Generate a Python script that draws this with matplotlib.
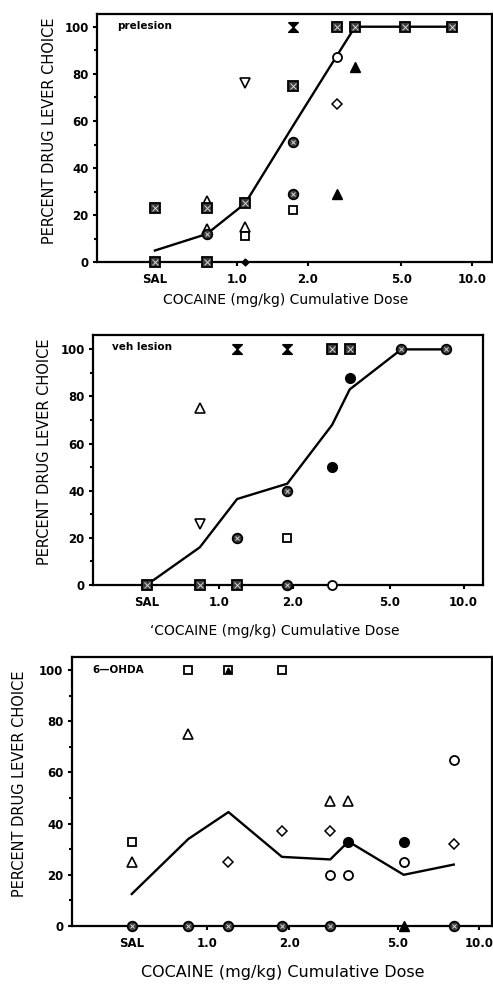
import matplotlib.pyplot as plt
import numpy as np
from matplotlib.ticker import FixedLocator, NullLocator

plt.rcParams['font.family'] = ['DejaVu Sans']

# x positions (first entry is the saline point)
pre_dose = [0.445, 0.74, 1.08, 1.73, 2.67, 3.18, 5.19, 8.22]
veh_dose = [0.505, 0.834, 1.185, 1.90, 2.90, 3.42, 5.56, 8.5]
ohda_dose = [0.527, 0.851, 1.195, 1.88, 2.83, 3.30, 5.27, 8.05]

tick_vals = ['SAL', '1.0', '2.0', '5.0', '10.0']

# group means (line)
pre_mean = [5, 12, 25, 58, 88, 100, 100, 100]
veh_mean = [0, 16, 36.5, 43, 68, 83, 100, 100]
ohda_mean = [12.5, 34, 44.5, 27, 26, 33, 20, 24]

# individual subjects: dose index, percent, marker kind
pre_idx = [0, 0, 1, 1, 1, 1, 1, 2, 2, 2, 2, 2, 3, 3, 3, 3, 3, 4, 4, 4, 4, 5, 5, 6, 7]
pre_pct = [23, 0, 26, 23, 14, 12, 0, 76, 25, 15, 11, 0, 100, 75, 51, 29, 22, 100, 87, 67, 29, 100, 83, 100, 100]
pre_mk = ['blob', 'blob', 'tr', 'blob', 'tr', 'cblob', 'blob', 'iv', 'blob', 'tr', 'sq', 'dsm',
          'hg', 'blob', 'cblob', 'cblob', 'sq', 'blob', 'ci', 'di', 'trf', 'blob', 'trf', 'blob', 'blob']

veh_idx = [0, 1, 1, 1, 2, 2, 2, 3, 3, 3, 3, 4, 4, 4, 5, 5, 6, 7]
veh_pct = [0, 75, 26, 0, 100, 20, 0, 100, 40, 20, 0, 100, 50, 0, 100, 88, 100, 100]
veh_mk = ['blob', 'tr', 'iv', 'blob', 'hg', 'cblob', 'blob', 'hg', 'cblob', 'sq', 'cblob',
          'blob', 'cf', 'ci', 'blob', 'cf', 'cblob', 'cblob']

ohda_idx = [0, 0, 0, 1, 1, 1, 2, 2, 2, 3, 3, 3, 4, 4, 4, 4, 5, 5, 5, 6, 6, 6, 7, 7, 7]
ohda_pct = [33, 25, 0, 100, 75, 0, 100, 25, 0, 100, 37, 0, 49, 37, 20, 0, 49, 33, 20, 33, 25, 0, 65, 32, 0]
ohda_mk = ['sq', 'tr', 'cblob', 'sq', 'tr', 'cblob', 'sqtr', 'di', 'cblob', 'sq', 'di', 'cblob',
           'tr', 'di', 'ci', 'cblob', 'tr', 'cf', 'ci', 'cf', 'ci', 'trf', 'ci', 'di', 'cblob']

hourglass = [(-1, 1), (1, 1), (0, 0), (1, -1), (-1, -1), (0, 0), (-1, 1)]


def put(ax, x, y, kind):
    kw = dict(linestyle='none', clip_on=False, zorder=4)
    if kind == 'sq':
        ax.plot(x, y, 's', ms=6, mfc='white', mec='k', mew=1.3, **kw)
    elif kind == 'sqtr':
        ax.plot(x, y, 's', ms=6, mfc='white', mec='k', mew=1.3, **kw)
        ax.plot(x, y, '^', ms=3.5, mfc='k', mec='k', **kw)
    elif kind == 'ci':
        ax.plot(x, y, 'o', ms=6.5, mfc='white', mec='k', mew=1.3, **kw)
    elif kind == 'cf':
        ax.plot(x, y, 'o', ms=7, mfc='k', mec='k', **kw)
    elif kind == 'tr':
        ax.plot(x, y, '^', ms=6.5, mfc='white', mec='k', mew=1.2, **kw)
    elif kind == 'trf':
        ax.plot(x, y, '^', ms=6.5, mfc='k', mec='k', **kw)
    elif kind == 'iv':
        ax.plot(x, y, 'v', ms=7, mfc='white', mec='k', mew=1.2, **kw)
    elif kind == 'di':
        ax.plot(x, y, 'D', ms=5, mfc='white', mec='k', mew=1.1, **kw)
    elif kind == 'dsm':
        ax.plot(x, y, 'D', ms=3.5, mfc='k', mec='k', **kw)
    elif kind == 'hg':
        ax.plot(x, y, marker=hourglass, ms=7, mfc='k', mec='k', **kw)
    elif kind == 'blob':
        ax.plot(x, y, 's', ms=6.5, mfc='#3a3a3a', mec='k', mew=1.3, **kw)
        ax.plot(x, y, 'x', ms=4, mec='#d8d8d8', mew=0.7, **kw)
    elif kind == 'cblob':
        ax.plot(x, y, 'o', ms=7, mfc='#3a3a3a', mec='k', mew=1.2, **kw)
        ax.plot(x, y, 'x', ms=3.5, mec='#d8d8d8', mew=0.7, **kw)


def panel(fig, rect, dose, mean, idx, pct, mk, tag, xlim, ytop):
    ax = fig.add_axes(rect)
    ax.set_xscale('log')
    ax.set_xlim(*xlim)
    ax.set_ylim(0, ytop)
    ax.plot(dose, mean, color='k', lw=1.7, zorder=3, clip_on=False)
    for i, p, k in zip(idx, pct, mk):
        put(ax, dose[i], p, k)
    ax.xaxis.set_major_locator(FixedLocator([dose[0], 1, 2, 5, 10]))
    ax.set_xticklabels(tick_vals)
    ax.xaxis.set_minor_locator(NullLocator())
    ax.set_yticks([0, 20, 40, 60, 80, 100])
    ax.yaxis.set_minor_locator(FixedLocator([10, 30, 50, 70, 90]))
    ax.tick_params(axis='both', which='major', direction='out', length=3, width=1.5,
                   labelsize=8.5, pad=3)
    ax.tick_params(axis='x', pad=5)
    ax.tick_params(axis='y', which='minor', direction='out', length=2, width=1.5)
    for t in ax.get_xticklabels() + ax.get_yticklabels():
        t.set_fontweight('bold')
    for s in ax.spines.values():
        s.set_linewidth(1.6)
    ax.text(0.05, 0.952, tag, transform=ax.transAxes, fontsize=7.5, fontweight='bold',
            va='center', ha='left')
    return ax


fig = plt.figure(figsize=(4.93, 9.86), dpi=100)

H = 986.0
W = 493.0

panel(fig, [97 / W, 1 - 262.3 / H, 395 / W, 248.3 / H], pre_dose, pre_mean,
      pre_idx, pre_pct, pre_mk, 'prelesion', (0.252, 12.2), 105.4)
panel(fig, [93 / W, 1 - 585 / H, 390 / W, 250 / H], veh_dose, veh_mean,
      veh_idx, veh_pct, veh_mk, 'veh lesion', (0.305, 12.0), 106.1)
panel(fig, [71.7 / W, 1 - 926 / H, 420 / W, 269.3 / H], ohda_dose, ohda_mean,
      ohda_idx, ohda_pct, ohda_mk, '6\u2014OHDA', (0.317, 11.1), 105.2)

ylab = 'PERCENT DRUG LEVER CHOICE'
for xp, yp in [(50, 131), (45, 452), (20, 784)]:
    fig.text(xp / W, 1 - yp / H, ylab, rotation=90, ha='center', va='center',
             fontsize=10.5)

fig.text(286 / W, 1 - 300 / H, 'COCAINE (mg/kg) Cumulative Dose', ha='center',
         va='center', fontsize=10)
fig.text(275 / W, 1 - 631 / H, '\u2018COCAINE (mg/kg) Cumulative Dose', ha='center',
         va='center', fontsize=10)
fig.text(283 / W, 1 - 973 / H, 'COCAINE (mg/kg) Cumulative Dose', ha='center',
         va='center', fontsize=11.5)

fig.savefig('out.png', dpi=100)
